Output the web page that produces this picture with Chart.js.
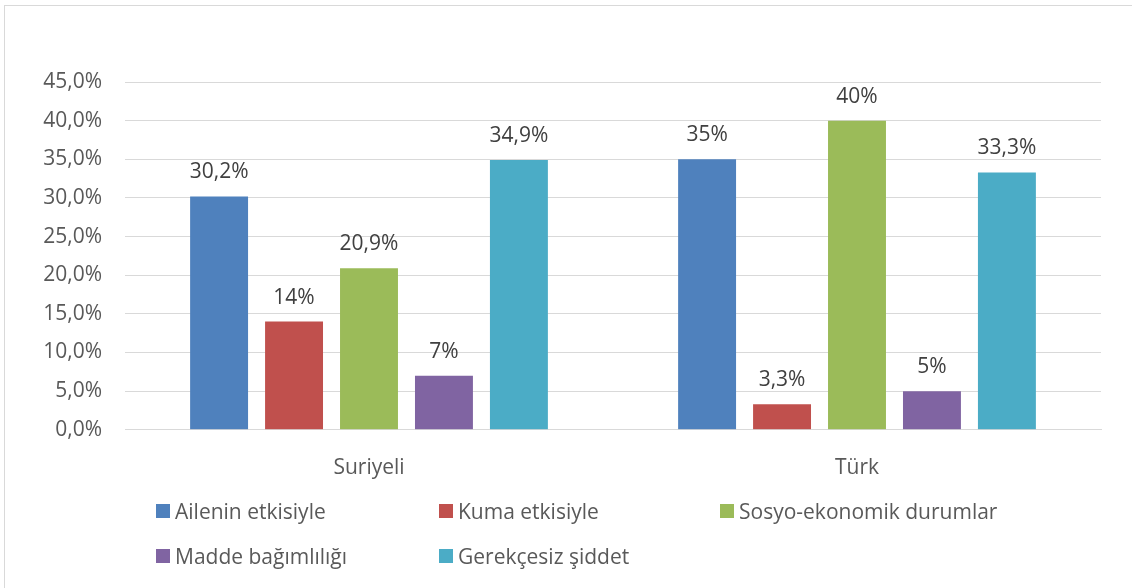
<!DOCTYPE html>
<html>
<head>
<meta charset="utf-8">
<script src="https://cdn.jsdelivr.net/npm/chart.js@4"></script>
<style>
  html, body { margin: 0; padding: 0; background: #fff; }
  body { width: 1132px; height: 588px; position: relative; overflow: hidden; font-family: "Open Sans", sans-serif; }
  #frame { position: absolute; left: 4px; top: 5px; width: 1140px; height: 600px; border: 1px solid #d9d9d9; box-sizing: border-box; }
  #wrap { position: absolute; left: 0; top: 0; width: 1132px; height: 588px; }
  #legend { position: absolute; left: 156px; top: 497px; display: grid; grid-template-columns: 283px 281px 300px; row-gap: 17px; color: #595959; font-size: 21px; }
  #legend div { display: flex; align-items: center; height: 28px; white-space: nowrap; }
  #legend span.box { display: inline-block; width: 14px; height: 14px; margin-right: 5px; }
</style>
</head>
<body>
<div id="frame"></div>
<div id="wrap"><canvas id="chart" width="1132" height="588"></canvas></div>
<div id="legend"></div>
<script>
const groups = ["Suriyeli", "Türk"];
const seriesNames = ["Ailenin etkisiyle", "Kuma etkisiyle", "Sosyo-ekonomik durumlar", "Madde bağımlılığı", "Gerekçesiz şiddet"];
const ailenin = [30.2, 35];
const kuma = [14, 3.3];
const sosyo = [20.9, 40];
const madde = [7, 5];
const gerekcesiz = [34.9, 33.3];
const yTicks = [0, 5, 10, 15, 20, 25, 30, 35, 40, 45];
const colors = ["#4F81BD", "#C0504D", "#9BBB59", "#8064A2", "#4BACC6"];

const values = [ailenin, kuma, sosyo, madde, gerekcesiz];

function fmtLabel(v) {
  return v % 1 === 0 ? v + "%" : v.toFixed(1).replace(".", ",") + "%";
}

const barLabels = {
  id: "barLabels",
  afterDatasetsDraw(chart) {
    const ctx = chart.ctx;
    ctx.save();
    ctx.font = "21px 'Open Sans'";
    ctx.fillStyle = "#404040";
    ctx.textAlign = "center";
    ctx.textBaseline = "middle";
    chart.data.datasets.forEach((ds, i) => {
      chart.getDatasetMeta(i).data.forEach((bar, j) => {
        ctx.fillText(fmtLabel(ds.data[j]), bar.x, bar.y - 24);
      });
    });
    ctx.restore();
  }
};

const chart = new Chart(document.getElementById("chart"), {
  type: "bar",
  data: {
    labels: groups,
    datasets: seriesNames.map((name, i) => ({
      label: name,
      data: values[i],
      backgroundColor: colors[i],
      categoryPercentage: 0.768,
      barPercentage: 0.773
    }))
  },
  options: {
    responsive: false,
    animation: false,
    layout: { padding: { top: 82, right: 31, bottom: 89, left: 0 } },
    plugins: { legend: { display: false }, tooltip: { enabled: false } },
    scales: {
      x: {
        grid: { display: false },
        border: { color: "#d9d9d9" },
        ticks: { color: "#595959", font: { family: "Open Sans", size: 21 }, padding: 18 }
      },
      y: {
        min: 0,
        max: 45,
        afterFit(scale) { scale.width = 125; },
        afterBuildTicks(scale) { scale.ticks = yTicks.map(v => ({ value: v })); },
        grid: { color: "#d9d9d9", drawTicks: false },
        border: { display: false },
        ticks: {
          color: "#595959",
          font: { family: "Open Sans", size: 21 },
          padding: 23,
          callback: v => v.toFixed(1).replace(".", ",") + "%"
        }
      }
    }
  },
  plugins: [barLabels]
});

const legend = document.getElementById("legend");
chart.data.datasets.forEach(ds => {
  const item = document.createElement("div");
  item.innerHTML = '<span class="box" style="background:' + ds.backgroundColor + '"></span>' + ds.label;
  legend.appendChild(item);
});
</script>
</body>
</html>
